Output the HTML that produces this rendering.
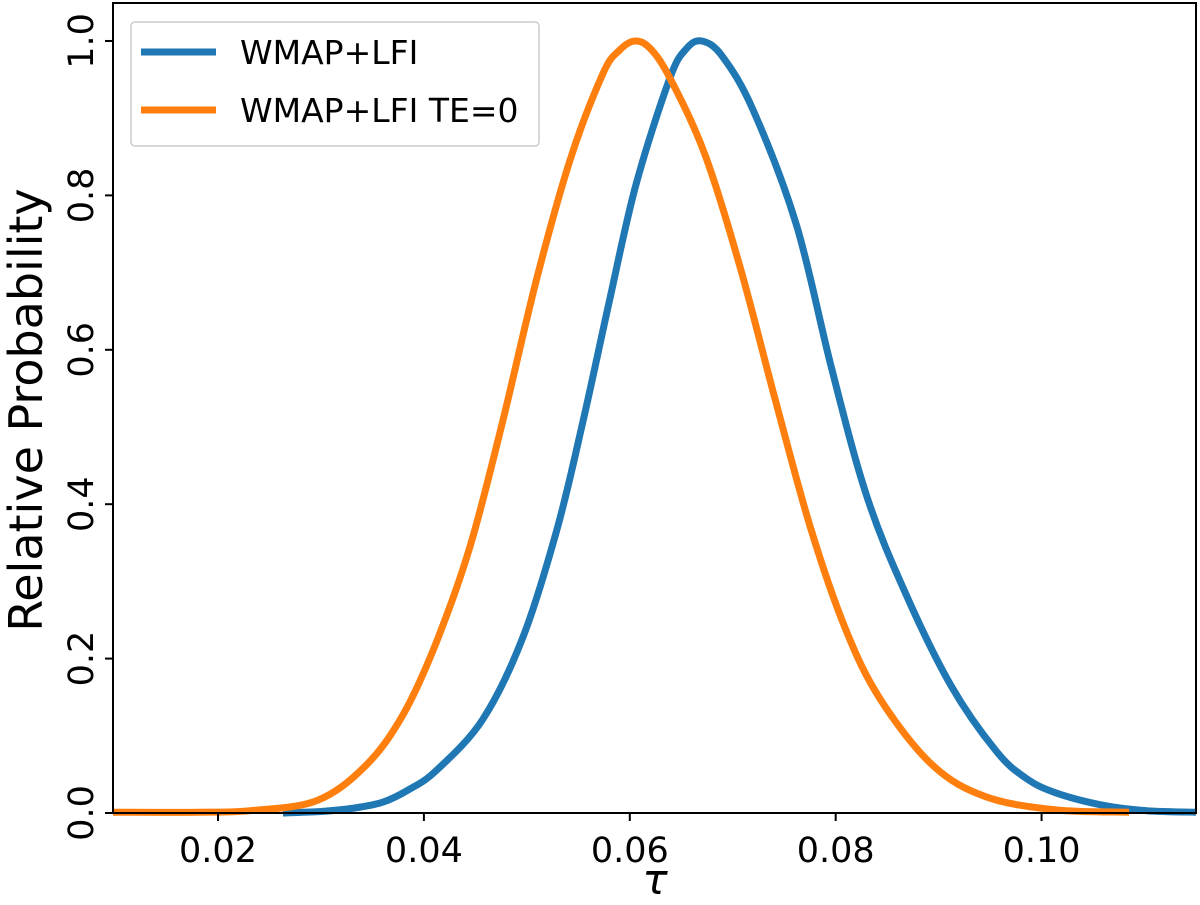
<!DOCTYPE html>
<html><head><meta charset="utf-8"><style>
body{margin:0;background:#fff;position:relative;width:1200px;height:900px;overflow:hidden}
svg text{font-family:"DejaVu Sans","Liberation Sans",sans-serif;fill:#000;}
</style></head><body>
<svg id="chart" width="1200" height="900" xmlns="http://www.w3.org/2000/svg">
<g id="plot"></g>
<g id="axes"></g>
</svg>
<script>
const xTicks=[0.02,0.04,0.06,0.08,0.10];
const xTickLabels=["0.02","0.04","0.06","0.08","0.10"];
const yTicks=[0,0.2,0.4,0.6,0.8,1.0];
const yTickLabels=["0.0","0.2","0.4","0.6","0.8","1.0"];
const blueX=[0.0263,0.0300,0.0330,0.0360,0.0385,0.0412,0.0457,0.0496,0.0529,0.0554,0.0580,0.0606,0.0639,0.0655,0.0670,0.0690,0.0720,0.0762,0.0796,0.0830,0.0867,0.0912,0.0956,0.0985,0.1014,0.1060,0.1102,0.1150];
const blueY=[0.0,0.002,0.006,0.014,0.030,0.055,0.121,0.227,0.366,0.504,0.662,0.814,0.952,0.99,1.0,0.98,0.91,0.761,0.576,0.411,0.287,0.165,0.080,0.045,0.026,0.010,0.003,0.001];
const orangeX=[0.0098,0.0180,0.0231,0.0296,0.0344,0.0380,0.0412,0.0445,0.0477,0.0509,0.0542,0.0574,0.0590,0.0605,0.0620,0.0639,0.0673,0.0707,0.0741,0.0775,0.0809,0.0843,0.0894,0.0946,0.1014,0.1085];
const orangeY=[0.001,0.001,0.003,0.016,0.062,0.128,0.221,0.346,0.510,0.689,0.846,0.958,0.988,1.0,0.99,0.952,0.853,0.708,0.537,0.372,0.240,0.148,0.062,0.021,0.004,0.001];
const L=113,R=1196,T=3,B=813;
const xmin=0.0098,xmax=0.1150,ymin=0,ymax=1.0492;
const sx=v=>L+(v-xmin)/(xmax-xmin)*(R-L);
const sy=v=>B-(v-ymin)/(ymax-ymin)*(B-T);
const NS="http://www.w3.org/2000/svg";
const plot=document.getElementById('plot'),axes=document.getElementById('axes');
function mk(tag,attrs,parent){const e=document.createElementNS(NS,tag);for(const k in attrs)e.setAttribute(k,attrs[k]);parent.appendChild(e);return e;}
function smoothPath(xs,ys){
  const P=xs.map((x,i)=>[sx(x),sy(ys[i])]);
  let d='M'+P[0][0].toFixed(1)+' '+P[0][1].toFixed(1);
  for(let i=0;i<P.length-1;i++){
    const p0=P[Math.max(i-1,0)],p1=P[i],p2=P[i+1],p3=P[Math.min(i+2,P.length-1)];
    const c1=[p1[0]+(p2[0]-p0[0])/6,p1[1]+(p2[1]-p0[1])/6];
    const c2=[p2[0]-(p3[0]-p1[0])/6,p2[1]-(p3[1]-p1[1])/6];
    d+=` C${c1[0].toFixed(1)} ${c1[1].toFixed(1)} ${c2[0].toFixed(1)} ${c2[1].toFixed(1)} ${p2[0].toFixed(1)} ${p2[1].toFixed(1)}`;
  }
  return d;
}
function line(xs,ys,color,name){
  const p=mk('path',{d:smoothPath(xs,ys),fill:'none',stroke:color,'stroke-width':7,'stroke-linejoin':'round'},plot);
  
  
}
line(blueX,blueY,'#1f77b4','series-wmap-lfi');
line(orangeX,orangeY,'#ff7f0e','series-wmap-lfi-te0');
const frame=mk('rect',{x:L,y:T,width:R-L,height:B-T,fill:'none',stroke:'#000','stroke-width':2},axes);


xTicks.forEach((v,i)=>{
  const x=sx(v);
  const t=mk('line',{x1:x,x2:x,y1:B,y2:B+8,stroke:'#000','stroke-width':2},axes);
  
  
  const l=mk('text',{x:x,y:862,'font-size':35,'text-anchor':'middle'},axes);
  l.textContent=xTickLabels[i];
  
  
});
yTicks.forEach((v,i)=>{
  const y=sy(v);
  const t=mk('line',{x1:L-8,x2:L,y1:y,y2:y,stroke:'#000','stroke-width':2},axes);
  
  
  const l=mk('text',{x:0,y:0,'font-size':35,'text-anchor':'middle',transform:`translate(93,${y}) rotate(-90)`},axes);
  l.textContent=yTickLabels[i];
  
  
});
</script>
<svg style="position:absolute;left:0;top:0" width="1200" height="900" xmlns="http://www.w3.org/2000/svg">
<text x="655" y="894" font-size="42" font-style="italic" text-anchor="middle">τ</text>
<text transform="translate(42,410) rotate(-90)" font-size="46" text-anchor="middle">Relative Probability</text>
<g>
<rect x="131" y="22" width="408" height="124" rx="4" fill="#fff" fill-opacity="0.8" stroke="#ccc" stroke-width="1.5"/>
<line x1="141" x2="216" y1="52" y2="52" stroke="#1f77b4" stroke-width="7"/>
<text x="240" y="64" font-size="33">WMAP+LFI</text>
<line x1="141" x2="216" y1="110" y2="110" stroke="#ff7f0e" stroke-width="7"/>
<text x="240" y="122" font-size="33">WMAP+LFI TE=0</text>
</g>
</svg>
</body></html>
